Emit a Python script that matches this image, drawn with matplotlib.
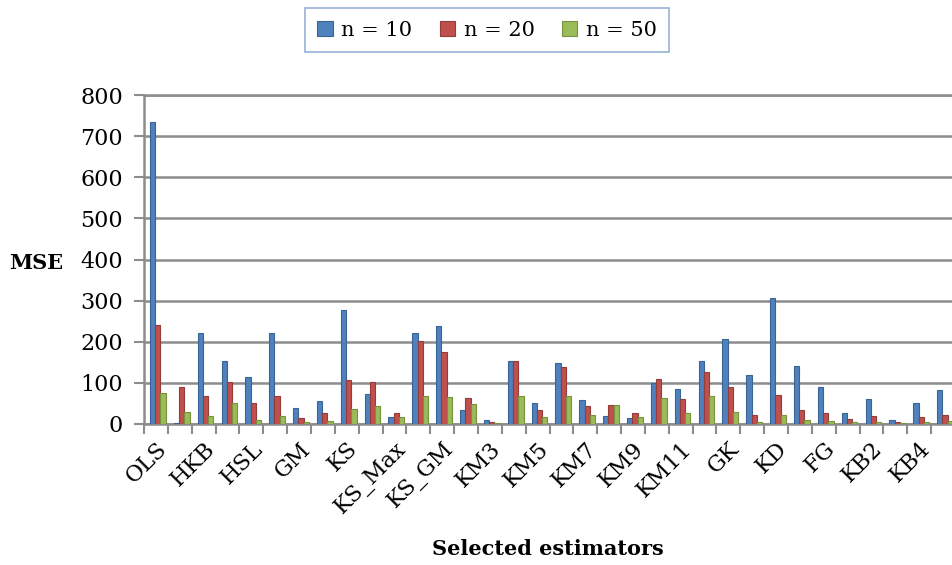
import matplotlib
matplotlib.use("Agg")
import matplotlib.pyplot as plt
import numpy as np

categories = ["OLS", "", "HKB", "", "HSL", "", "GM", "", "KS", "", "KS_Max", "",
              "KS_GM", "", "KM3", "", "KM5", "", "KM7", "", "KM9", "", "KM11", "",
              "GK", "", "KD", "", "FG", "", "KB2", "", "KB4", ""]
n10 = [735, 2, 221, 152, 114, 221, 40, 56, 278, 73, 16, 221, 239, 35, 10, 152, 50,
       149, 59, 20, 14, 99, 85, 152, 207, 118, 307, 142, 90, 27, 60, 10, 50, 82]
n20 = [241, 91, 68, 102, 50, 68, 14, 27, 108, 101, 27, 203, 175, 64, 6, 152, 34,
       139, 44, 45, 26, 110, 62, 126, 89, 23, 70, 35, 26, 12, 20, 6, 17, 23]
n50 = [76, 28, 20, 52, 10, 20, 4, 8, 37, 44, 16, 69, 65, 49, 3, 68, 18,
       67, 21, 46, 16, 64, 26, 68, 28, 4, 21, 10, 8, 4, 6, 2, 6, 7]
series_names = ["n = 10", "n = 20", "n = 50"]
colors = ["#4F81BD", "#C0504D", "#9BBB59"]
edges = ["#3A6496", "#943C3A", "#76923C"]

serif = ["DejaVu Serif"]
fig = plt.figure(figsize=(9.52, 5.65), dpi=100)
ax = fig.add_axes([144/952, 141/565, 811/952, 329/565])

x = np.arange(len(categories))
w = 0.22
for i, (vals, c, e, name) in enumerate(zip([n10, n20, n50], colors, edges, series_names)):
    ax.bar(x + (i - 1) * w + 0.08, vals, width=w, color=c, edgecolor=e,
           linewidth=0.8, label=name, zorder=3)

ax.set_xlim(-0.5, len(categories) - 0.5)
ax.set_ylim(0, 800)
ax.set_yticks(np.arange(0, 801, 100))
ax.yaxis.grid(True, color="#8C8C8C", linewidth=1.8, zorder=0)
ax.set_axisbelow(True)

ax.spines["right"].set_visible(False)
for s in ["top", "left", "bottom"]:
    ax.spines[s].set_color("#8C8C8C")
    ax.spines[s].set_linewidth(1.8)

ax.set_xticks(x)
ax.set_xticklabels(categories, rotation=45, ha="right", rotation_mode="anchor",
                   fontsize=16, family=serif)
ax.tick_params(axis="x", which="major", length=0, pad=10)
ax.set_xticks(np.arange(-0.5, len(categories), 1), minor=True)
ax.tick_params(axis="x", which="minor", length=7, width=1.5, color="#8C8C8C")
ax.tick_params(axis="y", length=7, width=1.5, color="#8C8C8C", labelsize=16, pad=8)
for t in ax.get_yticklabels():
    t.set_family(serif)

ax.set_ylabel("MSE", rotation=0, fontsize=15, fontweight="bold", family=serif,
              ha="center", va="center")
ax.yaxis.set_label_coords((36 - 144) / 811, (424 - 263) / 329)
ax.set_xlabel("Selected estimators", fontsize=15, fontweight="bold", family=serif)
ax.xaxis.set_label_coords((548 - 144) / 811, -0.35)

leg = fig.legend(loc="center", bbox_to_anchor=(487/952, 1 - 30/565), ncol=3,
                 prop={"family": serif, "size": 15}, frameon=True, fancybox=False,
                 handlelength=0.75, handleheight=0.75, columnspacing=1.3,
                 handletextpad=0.4, borderpad=0.6)
leg.get_frame().set_edgecolor("#7BA0CD")
leg.get_frame().set_linewidth(1.2)

fig.savefig("out.png", dpi=100)
